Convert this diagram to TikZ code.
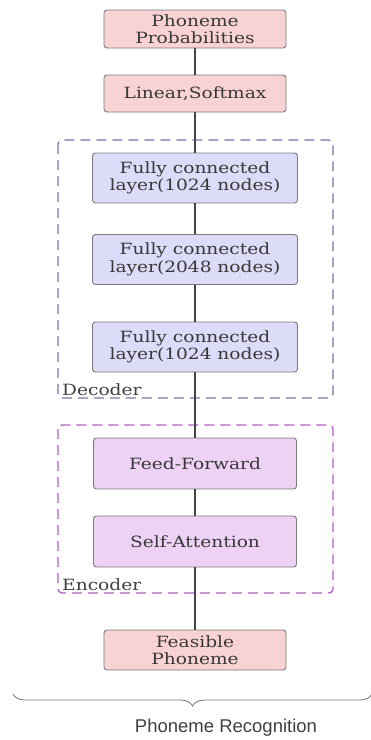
\documentclass[tikz,border=0pt]{standalone}
\usepackage{fontspec}
\setmainfont{DejaVu Serif}[FakeStretch=1.2]
\newfontfamily\labelsans{Liberation Sans}
\usetikzlibrary{decorations.pathreplacing}
\definecolor{pinkfill}{HTML}{F9D3D3}
\definecolor{bluefill}{HTML}{DCDCF8}
\definecolor{purpfill}{HTML}{EED2F6}
\definecolor{boxline}{HTML}{7A7A7A}
\definecolor{decline}{HTML}{7A74A8}
\definecolor{encline}{HTML}{B060C0}
\definecolor{wire}{HTML}{444444}
\tikzset{
  blk/.style={draw=boxline, line width=0.9pt, rounded corners=3pt, align=center,
    font=\fontsize{15.5}{17.5}\selectfont, text=black!78, inner sep=0pt},
  pinkblk/.style={blk, fill=pinkfill, minimum width=182pt},
  blueblk/.style={blk, fill=bluefill, minimum width=205pt, minimum height=50pt},
  purpblk/.style={blk, fill=purpfill, minimum width=203pt, minimum height=51pt},
  wireline/.style={draw=wire, line width=1.8pt},
  grp/.style={line width=1.3pt, dash pattern=on 10pt off 6pt, rounded corners=4pt},
  grplabel/.style={anchor=west, font=\fontsize{15.5}{17}\selectfont, text=black!75, inner sep=0pt}
}
\begin{document}
\begin{tikzpicture}[x=1pt,y=-1pt]
\useasboundingbox (0,0) rectangle (371,740);
% group frames
\draw[grp, draw=decline] (58,140) rectangle (333,398);
\draw[grp, draw=encline] (58,425) rectangle (333,593);
% nodes
\node[pinkblk, minimum height=38pt] (pp) at (195,29) {Phoneme\\Probabilities};
\node[pinkblk, minimum height=37pt] (ls) at (195,93.5) {Linear,Softmax};
\node[blueblk] (fc1) at (195,178) {Fully connected\\layer(1024 nodes)};
\node[blueblk] (fc2) at (195,259.5) {Fully connected\\layer(2048 nodes)};
\node[blueblk] (fc3) at (195,347) {Fully connected\\layer(1024 nodes)};
\node[purpblk] (ff) at (195,463.5) {Feed-Forward};
\node[purpblk] (sa) at (195,541.5) {Self-Attention};
\node[pinkblk, minimum height=40pt] (fp) at (195,650) {Feasible\\Phoneme};
% connectors
\draw[wireline] (pp) -- (ls);
\draw[wireline] (ls) -- (fc1);
\draw[wireline] (fc1) -- (fc2);
\draw[wireline] (fc2) -- (fc3);
\draw[wireline] (fc3) -- (ff);
\draw[wireline] (ff) -- (sa);
\draw[wireline] (sa) -- (fp);
% group labels
\node[grplabel] (declab) at (62,390) {Decoder};
\node[grplabel] (enclab) at (62,585) {Encoder};
% brace
\coordinate (br) at (372,694);
\coordinate (bl) at (13,694);
\draw[draw=black!55, line width=0.8pt, decorate, decoration={brace, amplitude=12pt}] (br) -- (bl);
\node[font=\labelsans\fontsize{18.5}{21}\selectfont, text=black!75] (rec) at (226,728) {Phoneme Recognition};
\end{tikzpicture}
\end{document}
